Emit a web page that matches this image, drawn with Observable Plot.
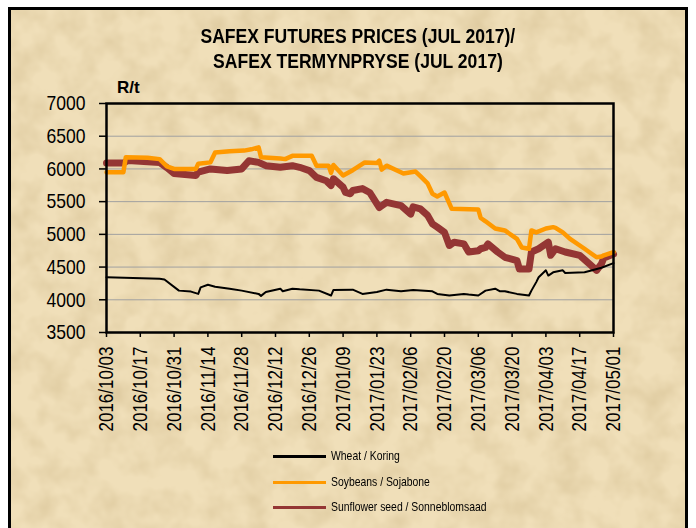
<!DOCTYPE html>
<html>
<head>
<meta charset="utf-8">
<script src="https://cdn.jsdelivr.net/npm/d3@7"></script>
<script src="https://cdn.jsdelivr.net/npm/@observablehq/plot@0.6"></script>
<style>
  html, body { margin: 0; padding: 0; background: #ffffff; }
  #page { position: relative; width: 696px; height: 528px; overflow: hidden; }
  #frame {
    position: absolute; left: 8px; top: 7px; width: 674px; height: 540px;
    border: 3px solid #000;
    background-color: #f0dfb9;
  }
  #frame svg { position: absolute; left: 0; top: 0; }
  #chart { position: absolute; left: 0; top: 0; }
  .title {
    position: absolute; left: 10px; width: 696px; text-align: center;
    font-family: "Liberation Sans", Arial, sans-serif;
    font-weight: bold; font-size: 19.5px; color: #000; line-height: 1;
  }
  .title span { display: inline-block; transform: scaleX(0.9); transform-origin: center; white-space: nowrap; }
  #unit {
    position: absolute; left: 117px; top: 78px;
    font-family: "Liberation Sans", Arial, sans-serif; font-weight: bold; font-size: 17px;
  }
  .leg { position: absolute; left: 273px; height: 20px; }
  .leg .sw { position: absolute; left: 0; top: 9px; width: 53px; height: 3px; }
  .leg .lb {
    position: absolute; left: 58px; top: 2px; white-space: nowrap;
    font-family: "Liberation Sans", Arial, sans-serif;
    font-size: 13px; color: #000; transform: scaleX(0.8); transform-origin: left center;
  }
</style>
</head>
<body>
<div id="page">
  <div id="frame">
    <svg width="674" height="540" xmlns="http://www.w3.org/2000/svg">
      <filter id="parch" x="0" y="0" width="100%" height="100%">
        <feTurbulence type="fractalNoise" baseFrequency="0.035" numOctaves="3" seed="7"/>
        <feColorMatrix values="0 0 0 0 0.62  0 0 0 0 0.48  0 0 0 0 0.25  0.9 0 0 0 -0.33"/>
      </filter>
      <rect width="674" height="540" filter="url(#parch)"/>
    </svg>
  </div>
  <div id="chart"></div>
  <div class="title" style="top:27px"><span>SAFEX FUTURES PRICES (JUL 2017)/</span></div>
  <div class="title" style="top:52px"><span>SAFEX TERMYNPRYSE (JUL 2017)</span></div>
  <div id="unit">R/t</div>
  <div id="legend"></div>
</div>
<script>
// ---- Data ----
const seriesNames = ["Wheat / Koring", "Soybeans / Sojabone", "Sunflower seed / Sonneblomsaad"];
const seriesColors = ["#000000", "#ff9900", "#943634"];

const xTickLabels = ["2016/10/03","2016/10/17","2016/10/31","2016/11/14","2016/11/28","2016/12/12",
  "2016/12/26","2017/01/09","2017/01/23","2017/02/06","2017/02/20","2017/03/06","2017/03/20",
  "2017/04/03","2017/04/17","2017/05/01"];
const yTicks = [3500, 4000, 4500, 5000, 5500, 6000, 6500, 7000];

const wheatDates = ["2016-10-03","2016-10-25","2016-10-27","2016-11-02","2016-11-07","2016-11-10","2016-11-11",
  "2016-11-14","2016-11-17","2016-11-23","2016-11-28","2016-12-05","2016-12-06","2016-12-08","2016-12-14",
  "2016-12-15","2016-12-19","2016-12-22","2016-12-30","2017-01-04","2017-01-05","2017-01-13","2017-01-17",
  "2017-01-23","2017-01-27","2017-02-02","2017-02-07","2017-02-15","2017-02-17","2017-02-22","2017-02-28",
  "2017-03-02","2017-03-06","2017-03-09","2017-03-13","2017-03-15","2017-03-17","2017-03-22","2017-03-27",
  "2017-03-28","2017-03-30","2017-03-31","2017-04-03","2017-04-04","2017-04-06","2017-04-10","2017-04-11",
  "2017-04-19","2017-04-21","2017-04-26","2017-05-01"];
const wheatValues = [4345,4320,4310,4140,4125,4090,4190,
  4230,4200,4170,4140,4090,4060,4120,4170,
  4130,4170,4160,4140,4065,4150,4155,4090,
  4120,4155,4130,4150,4130,4090,4065,4090,
  4080,4065,4140,4170,4130,4130,4090,4065,
  4140,4270,4345,4450,4370,4420,4450,4410,
  4420,4440,4490,4560];

const soyDates = ["2016-10-03","2016-10-10","2016-10-11","2016-10-20","2016-10-25","2016-10-28","2016-10-31",
  "2016-11-09","2016-11-10","2016-11-15","2016-11-17","2016-11-23","2016-11-29","2016-12-02","2016-12-05",
  "2016-12-06","2016-12-14","2016-12-16","2016-12-19","2016-12-27","2016-12-29","2017-01-03","2017-01-04",
  "2017-01-05","2017-01-09","2017-01-13","2017-01-18","2017-01-23","2017-01-24","2017-01-25","2017-01-27",
  "2017-02-03","2017-02-08","2017-02-10","2017-02-13","2017-02-15","2017-02-17","2017-02-20","2017-02-23",
  "2017-03-06","2017-03-07","2017-03-09","2017-03-13","2017-03-17","2017-03-22","2017-03-24","2017-03-27",
  "2017-03-28","2017-03-30","2017-04-03","2017-04-06","2017-04-07","2017-04-10","2017-04-13","2017-04-19",
  "2017-04-24","2017-04-26","2017-04-27","2017-05-01"];
const soyValues = [5950,5950,6180,6170,6150,6040,6000,
  6000,6080,6100,6250,6270,6280,6300,6330,
  6180,6160,6150,6200,6200,6050,6050,5940,
  6060,5900,5980,6100,6090,6125,5990,6050,
  5930,5960,5890,5780,5620,5580,5640,5390,
  5380,5250,5200,5090,5060,4930,4800,4780,
  5060,5030,5090,5110,5100,5030,4930,4780,
  4650,4660,4680,4730];

const sunDates = ["2016-10-03","2016-10-10","2016-10-12","2016-10-25","2016-10-28","2016-10-31","2016-11-09",
  "2016-11-10","2016-11-15","2016-11-22","2016-11-28","2016-12-01","2016-12-05","2016-12-08","2016-12-14",
  "2016-12-19","2016-12-22","2016-12-26","2016-12-29","2017-01-02","2017-01-04","2017-01-05","2017-01-09",
  "2017-01-10","2017-01-12","2017-01-13","2017-01-17","2017-01-20","2017-01-24","2017-01-27","2017-02-02",
  "2017-02-06","2017-02-07","2017-02-10","2017-02-13","2017-02-15","2017-02-17","2017-02-20","2017-02-22",
  "2017-02-24","2017-02-28","2017-03-02","2017-03-06","2017-03-07","2017-03-09","2017-03-10","2017-03-14",
  "2017-03-17","2017-03-22","2017-03-23","2017-03-27","2017-03-28","2017-03-31","2017-04-04","2017-04-05",
  "2017-04-07","2017-04-11","2017-04-17","2017-04-21","2017-04-24","2017-04-26","2017-04-27","2017-05-01"];
const sunValues = [6090,6090,6130,6100,6020,5930,5900,
  5950,6000,5975,6000,6125,6100,6050,6025,
  6050,6025,5975,5870,5820,5745,5850,5720,
  5640,5620,5670,5700,5640,5410,5490,5440,
  5310,5420,5390,5290,5160,5110,5030,4830,
  4880,4855,4730,4750,4780,4800,4855,4730,
  4650,4600,4470,4470,4730,4780,4880,4680,
  4780,4730,4680,4550,4450,4550,4640,4700];

// ---- Build table ----
const parse = d3.utcParse("%Y-%m-%d");
const toRows = (name, dates, values) => dates.map((d, i) => ({series: name, date: parse(d), value: values[i]}));
const wheat = toRows(seriesNames[0], wheatDates, wheatValues);
const soy = toRows(seriesNames[1], soyDates, soyValues);
const sun = toRows(seriesNames[2], sunDates, sunValues);
const xTicks = xTickLabels.map(d3.utcParse("%Y/%m/%d"));

const chart = Plot.plot({
  width: 696,
  height: 460,
  marginLeft: 106,
  marginRight: 83,
  marginTop: 103,
  marginBottom: 128,
  style: {background: "transparent", fontFamily: "'Liberation Sans', Arial, sans-serif", color: "#000"},
  x: {type: "utc", domain: [xTicks[0], xTicks[xTicks.length - 1]]},
  y: {domain: [3500, 7000]},
  marks: [
    Plot.gridY(yTicks.slice(1, -1), {stroke: "#a0a0a0", strokeOpacity: 1, strokeWidth: 1}),
    Plot.line(sun, {x: "date", y: "value", stroke: seriesColors[2], strokeWidth: 7, strokeLinejoin: "round"}),
    Plot.line(soy, {x: "date", y: "value", stroke: seriesColors[1], strokeWidth: 4.5, strokeLinejoin: "round"}),
    Plot.line(wheat, {x: "date", y: "value", stroke: seriesColors[0], strokeWidth: 2, strokeLinejoin: "round"}),
    Plot.frame({stroke: "#000", strokeWidth: 2.5}),
    Plot.axisY({ticks: yTicks, tickFormat: d3.format("d"), tickSize: 7, tickPadding: 14, fontSize: 21, label: null, strokeWidth: 1.5}),
    Plot.axisX({ticks: xTicks, tickFormat: d3.utcFormat("%Y/%m/%d"), tickRotate: -90, tickSize: 5, tickPadding: 9, fontSize: 21, label: null, strokeWidth: 1.5})
  ]
});
// narrow the tick labels (the reference uses a condensed face)
chart.querySelectorAll('g[aria-label="x-axis tick label"] text').forEach(t => {
  t.setAttribute("textLength", 85); t.setAttribute("lengthAdjust", "spacingAndGlyphs");
});
chart.querySelectorAll('g[aria-label="y-axis tick label"] text').forEach(t => {
  t.setAttribute("textLength", 39); t.setAttribute("lengthAdjust", "spacingAndGlyphs");
});
document.getElementById("chart").appendChild(chart);

// ---- Legend ----
const legend = document.getElementById("legend");
const legendTops = [446, 472, 497];
seriesNames.forEach((name, i) => {
  const row = document.createElement("div");
  row.className = "leg";
  row.style.top = legendTops[i] + "px";
  row.innerHTML = `<div class="sw" style="background:${seriesColors[i]}"></div><div class="lb">${name}</div>`;
  legend.appendChild(row);
});
</script>
</body>
</html>
